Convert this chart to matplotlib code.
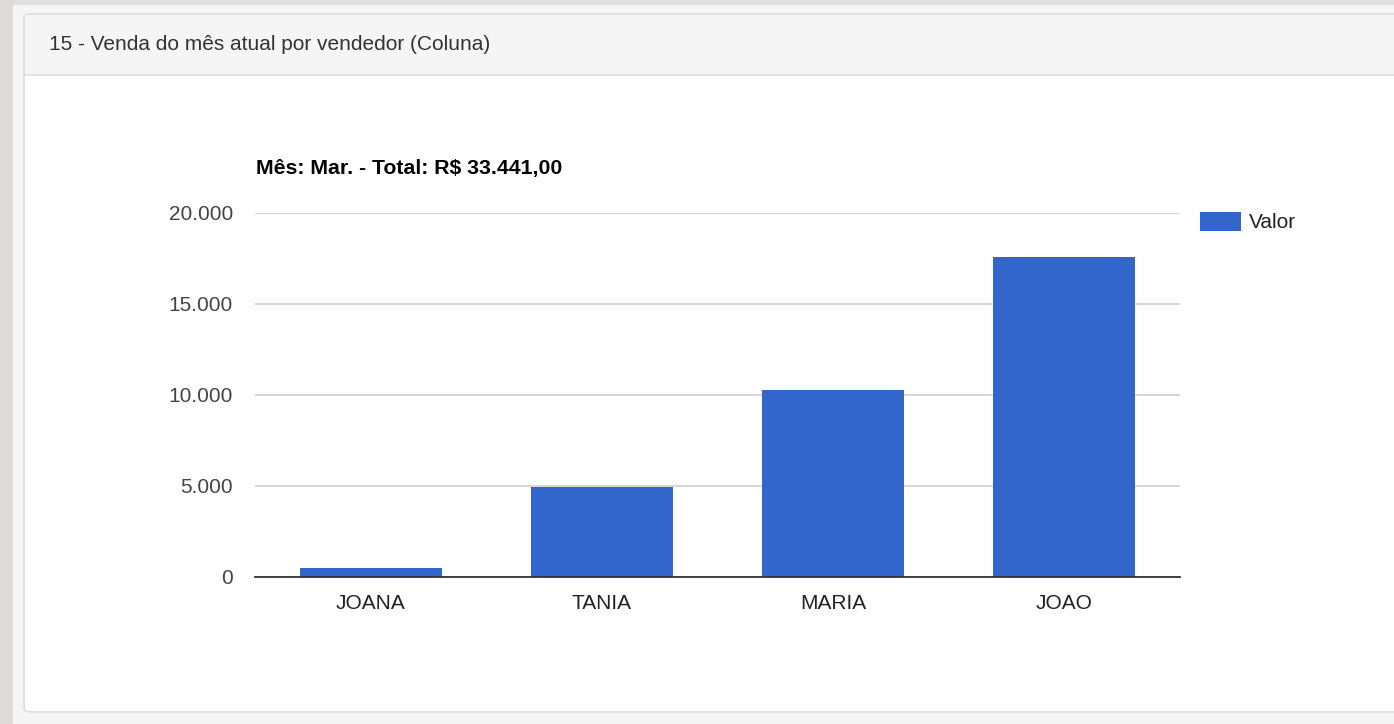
import numpy as np
import matplotlib.pyplot as plt
from matplotlib.patches import Rectangle, FancyBboxPatch
from matplotlib.ticker import FuncFormatter

#data
vendedores = ['JOANA', 'TANIA', 'MARIA', 'JOAO']
valores = [462, 4934, 10286, 17602]
header = '15 - Venda do mês atual por vendedor (Coluna)'
titulo = 'Mês: Mar. - Total: R$ 33.441,00'
serie = 'Valor'

W, H = 1394, 724
plt.rcParams['font.family'] = ['Liberation Sans', 'DejaVu Sans']

fig = plt.figure(figsize=(W / 100, H / 100), dpi=100)
fig.patch.set_facecolor('#f5f5f5')

def fx(px):
    return px / W

def fy(py):
    return 1 - py / H

#page background bits
fig.patches.append(Rectangle((0, 0), fx(13), 1, transform=fig.transFigure,
                             facecolor='#dedbd6', edgecolor='none', zorder=0))
fig.patches.append(Rectangle((fx(13), fy(5)), 1, 5 / H, transform=fig.transFigure,
                             facecolor='#e2dfda', edgecolor='none', zorder=0))

#panel
fig.patches.append(FancyBboxPatch((fx(24), fy(712)), fx(1420 - 24), (712 - 14) / H,
                                  boxstyle='round,pad=0,rounding_size=0.005',
                                  transform=fig.transFigure, facecolor='white',
                                  edgecolor='#dcdcdc', linewidth=1.2, zorder=1))
fig.patches.append(Rectangle((fx(25), fy(75)), fx(1400), (75 - 15) / H,
                             transform=fig.transFigure, facecolor='#f5f5f5',
                             edgecolor='none', zorder=2))
fig.lines.append(plt.Line2D([fx(25), 1], [fy(75), fy(75)], transform=fig.transFigure,
                            color='#dddddd', linewidth=1.2, zorder=3))
fig.text(fx(49), fy(45), header, fontsize=15, color='#333333', va='center', ha='left', zorder=4)

#chart
ax = fig.add_axes([fx(255), fy(576.7), fx(1180 - 255), (576.7 - 213) / H])
ax.set_zorder(5)
ax.patch.set_alpha(0)
x = np.arange(len(vendedores))
ax.bar(x, valores, width=0.615, color='#3366cc', label=serie, zorder=3)
ax.set_xlim(-0.5, len(vendedores) - 0.5)
ax.set_ylim(0, 20000)
ax.set_yticks(np.arange(0, 20001, 5000))
ax.yaxis.set_major_formatter(FuncFormatter(lambda v, p: f'{int(v):,}'.replace(',', '.')))
ax.set_xticks(x)
ax.set_xticklabels(vendedores)
ax.grid(axis='y', color='#cccccc', linewidth=1.1, zorder=0)
for s in ['top', 'right', 'left']:
    ax.spines[s].set_visible(False)
ax.spines['bottom'].set_color('#333333')
ax.spines['bottom'].set_linewidth(1.3)
ax.spines['bottom'].set_zorder(4)
ax.tick_params(axis='y', length=0, pad=16, labelsize=15, labelcolor='#444444')
ax.tick_params(axis='x', length=0, pad=12.5, labelsize=15, labelcolor='#222222')

fig.text(fx(256), fy(168.5), titulo, fontsize=15.3, fontweight='bold', color='black',
         va='center', ha='left', zorder=6)

ax.legend(loc='upper left', bbox_to_anchor=(fx(1200), fy(212)), bbox_transform=fig.transFigure,
          frameon=False, fontsize=15, handlelength=1.95, handleheight=1.0,
          handletextpad=0.4, borderpad=0, borderaxespad=0, labelcolor='#222222')

fig.savefig('out.png', dpi=100, facecolor=fig.get_facecolor())
